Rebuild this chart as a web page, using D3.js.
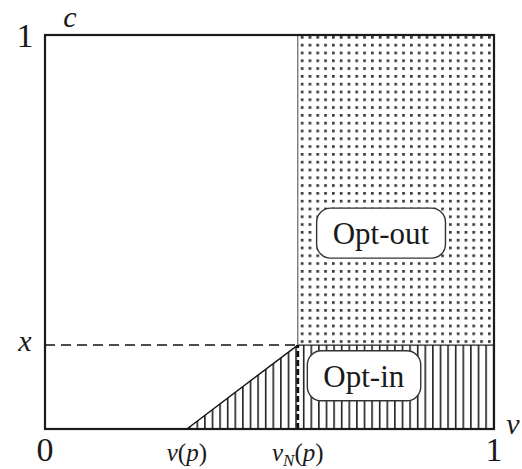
<!DOCTYPE html>
<html>
<head>
<meta charset="utf-8">
<script src="https://cdnjs.cloudflare.com/ajax/libs/d3/7.8.5/d3.min.js"></script>
<style>
  body { margin: 0; background: #fff; }
</style>
</head>
<body>
<svg id="chart" width="522" height="469" font-family="'Liberation Serif', 'Times New Roman', Times, 'DejaVu Serif', serif"></svg>
<script>
// values (unit square, v horizontal, c vertical)
var vP = 0.316;      // v(p)
var vN = 0.563;      // v_N(p)
var xLevel = 0.213;  // x

var xTicks = [
  {v: 0, label: "0"},
  {v: vP, label: "v(p)"},
  {v: vN, label: "vN(p)"},
  {v: 1, label: "1"}
];
var yTicks = [
  {c: 1, label: "1"},
  {c: xLevel, label: "x"}
];
var regionLabels = [
  {name: "Opt-out", v: 0.748, c: 0.492},
  {name: "Opt-in", v: 0.71, c: 0.13}
];

var svg = d3.select("#chart");
var margin = {left: 45, top: 35, right: 28, bottom: 40};
var width = 522 - margin.left - margin.right,
    height = 469 - margin.top - margin.bottom;

var xs = d3.scaleLinear().domain([0, 1]).range([margin.left, margin.left + width]);
var ys = d3.scaleLinear().domain([0, 1]).range([margin.top + height, margin.top]);

//patterns
var defs = svg.append("defs");
var hatch = defs.append("pattern")
  .attr("id", "hatch")
  .attr("patternUnits", "userSpaceOnUse")
  .attr("x", xs(vP) + 2)
  .attr("width", 7.6).attr("height", 10);
hatch.append("line")
  .attr("x1", 0.8).attr("x2", 0.8).attr("y1", 0).attr("y2", 10)
  .attr("stroke", "#111").attr("stroke-width", 1.5);

var dots = defs.append("pattern")
  .attr("id", "dots")
  .attr("patternUnits", "userSpaceOnUse")
  .attr("x", xs(vN) + 3).attr("y", ys(1) + 1)
  .attr("width", 7.8).attr("height", 7.8);
dots.append("rect")
  .attr("x", 0).attr("y", 0).attr("width", 2.7).attr("height", 2.7)
  .attr("fill", "#3a3a3a");

// opt-out region (dots)
svg.append("rect")
  .attr("x", xs(vN)).attr("y", ys(1))
  .attr("width", xs(1) - xs(vN)).attr("height", ys(xLevel) - ys(1))
  .attr("fill", "url(#dots)");

// opt-in region (vertical hatch)
var optIn = [[vP, 0], [vN, xLevel], [1, xLevel], [1, 0]];
svg.append("path")
  .attr("d", d3.line().x(function(d){ return xs(d[0]); }).y(function(d){ return ys(d[1]); })(optIn) + "Z")
  .attr("fill", "url(#hatch)");

// diagonal edge
svg.append("line")
  .attr("x1", xs(vP)).attr("y1", ys(0))
  .attr("x2", xs(vN)).attr("y2", ys(xLevel))
  .attr("stroke", "#111").attr("stroke-width", 1.4);

// top edge of hatched area
svg.append("line")
  .attr("x1", xs(vN)).attr("y1", ys(xLevel))
  .attr("x2", xs(1)).attr("y2", ys(xLevel))
  .attr("stroke", "#222").attr("stroke-width", 1.3);

// left edge of dotted area
svg.append("line")
  .attr("x1", xs(vN)).attr("y1", ys(1))
  .attr("x2", xs(vN)).attr("y2", ys(xLevel))
  .attr("stroke", "#666").attr("stroke-width", 1.2);

// dashed lines
svg.append("line")
  .attr("x1", xs(0)).attr("y1", ys(xLevel))
  .attr("x2", xs(vN)).attr("y2", ys(xLevel))
  .attr("stroke", "#111").attr("stroke-width", 1.5)
  .attr("stroke-dasharray", "10,6");
svg.append("line")
  .attr("x1", xs(vN)).attr("y1", ys(0))
  .attr("x2", xs(vN)).attr("y2", ys(xLevel))
  .attr("stroke", "#111").attr("stroke-width", 2.8)
  .attr("stroke-dasharray", "6,3");

// frame
svg.append("rect")
  .attr("x", xs(0)).attr("y", ys(1))
  .attr("width", xs(1) - xs(0)).attr("height", ys(0) - ys(1))
  .attr("fill", "none").attr("stroke", "#1a1a1a").attr("stroke-width", 2.2);

// region labels in rounded boxes
regionLabels.forEach(function(d) {
  var g = svg.append("g");
  var t = g.append("text")
    .attr("x", xs(d.v)).attr("y", ys(d.c) + 9)
    .attr("text-anchor", "middle")
    .attr("font-size", 31)
    .attr("fill", "#1a1a1a")
    .text(d.name);
  var bb = t.node().getBBox();
  g.insert("rect", "text")
    .attr("x", bb.x - 16).attr("y", bb.y - 8)
    .attr("width", bb.width + 32).attr("height", bb.height + 15)
    .attr("rx", 14).attr("ry", 14)
    .attr("fill", "#fff").attr("stroke", "#333").attr("stroke-width", 1.4);
});

// x tick labels
xTicks.forEach(function(d) {
  var t = svg.append("text")
    .attr("x", xs(d.v)).attr("y", ys(0) + 32)
    .attr("text-anchor", "middle")
    .attr("fill", "#1a1a1a");
  if (d.label == "0" || d.label == "1") {
    t.attr("font-size", 34).text(d.label);
  } else {
    t.attr("font-size", 25);
    t.append("tspan").attr("font-style", "italic").text("v");
    if (d.label == "vN(p)") {
      t.append("tspan").attr("font-style", "italic").attr("font-size", 17).attr("dy", 5).text("N");
      t.append("tspan").attr("dy", -5).text("(");
    } else {
      t.append("tspan").text("(");
    }
    t.append("tspan").attr("font-style", "italic").text("p");
    t.append("tspan").text(")");
  }
});

// y tick labels
yTicks.forEach(function(d) {
  var t = svg.append("text")
    .attr("x", 25).attr("text-anchor", "middle").attr("fill", "#1a1a1a");
  if (d.label == "1") {
    t.attr("y", ys(d.c) + 12).attr("font-size", 34).text(d.label);
  } else {
    t.attr("y", ys(d.c) + 6).attr("font-size", 30).attr("font-style", "italic").text(d.label);
  }
});

// axis names
svg.append("text").attr("x", 70).attr("y", 27)
  .attr("text-anchor", "middle").attr("font-size", 30).attr("font-style", "italic").attr("fill", "#1a1a1a").text("c");
svg.append("text").attr("x", 513).attr("y", 434)
  .attr("text-anchor", "middle").attr("font-size", 30).attr("font-style", "italic").attr("fill", "#1a1a1a").text("v");
</script>
</body>
</html>
